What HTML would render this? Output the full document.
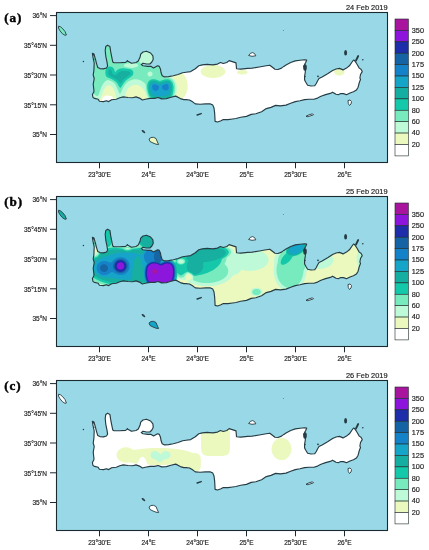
<!DOCTYPE html>
<html><head><meta charset="utf-8"><style>
html,body{margin:0;padding:0;background:#fff;}
body{width:429px;height:550px;overflow:hidden;}
svg{display:block;}
text{font-family:"Liberation Sans",sans-serif;fill:#222;stroke:#222;stroke-width:0.18px;}
.tx{opacity:0.995;}
.ax{font-size:6.5px;}
.dt{font-size:7.4px;}
.cb{font-size:7.3px;}
.pl{font-family:"Liberation Serif",serif;font-weight:bold;font-size:13.1px;fill:#000;stroke:#000;stroke-width:0.45px;letter-spacing:0.9px;}
</style></head><body>
<svg width="429" height="550" viewBox="0 0 429 550">
<defs><filter id="bl" x="-5%" y="-5%" width="110%" height="110%"><feGaussianBlur stdDeviation="0.45"/></filter><clipPath id="land"><path d="M92.4,53.4 L93.9,54.0 L95.3,58.6 L96.5,63.3 L97.7,67.4 L100.0,68.6 L103.5,68.9 L106.4,68.0 L107.6,66.2 L107.0,62.1 L105.8,56.3 L105.2,50.5 L105.8,46.4 L107.6,45.2 L109.9,46.4 L110.7,51.7 L111.6,56.3 L112.8,62.1 L114.0,62.7 L119.8,62.7 L125.6,62.4 L127.4,61.0 L131.5,63.3 L136.0,62.5 L138.3,61.1 L140.1,57.1 L140.7,54.1 L143.0,52.0 L146.5,51.2 L150.6,53.0 L152.9,55.9 L153.2,59.4 L151.7,62.3 L149.8,64.0 L146.5,64.0 L143.0,63.2 L141.2,64.6 L143.0,65.8 L147.7,66.4 L151.2,66.4 L153.5,67.9 L157.6,65.8 L159.3,66.4 L160.5,69.3 L161.1,72.8 L162.2,75.7 L164.6,76.9 L168.6,76.6 L173.3,75.7 L178.0,74.5 L182.6,72.8 L186.0,72.2 L190.7,71.6 L195.3,68.7 L198.8,65.8 L202.3,64.9 L207.0,64.4 L212.8,64.9 L217.5,64.1 L220.4,62.5 L223.3,63.5 L226.8,62.5 L229.1,60.6 L231.5,61.4 L233.8,62.1 L236.0,62.9 L236.5,68.7 L240.7,69.1 L247.7,68.4 L252.3,68.1 L259.3,67.0 L266.3,65.8 L269.8,65.2 L272.1,67.0 L275.0,69.3 L278.0,69.5 L281.5,68.1 L283.8,66.4 L286.0,65.0 L290.7,62.5 L295.3,60.9 L300.0,60.2 L304.6,59.7 L306.7,60.0 L305.8,62.3 L304.6,64.6 L303.8,66.5 L305.5,69.5 L305.2,72.8 L304.6,76.3 L304.6,80.0 L305.8,82.3 L307.6,85.2 L311.0,86.0 L314.6,85.8 L316.3,83.5 L317.5,81.0 L319.0,78.5 L322.1,76.9 L328.0,73.4 L332.6,70.5 L336.0,69.0 L339.5,68.4 L343.0,69.9 L346.5,68.1 L349.4,65.8 L351.7,62.5 L353.5,60.0 L354.6,60.6 L355.8,62.3 L357.6,65.2 L359.3,68.1 L361.0,69.3 L362.2,71.6 L360.5,74.5 L359.9,78.0 L360.5,79.5 L359.3,82.5 L358.1,87.2 L356.4,90.1 L353.5,91.8 L350.0,93.0 L346.5,94.7 L343.6,93.6 L340.7,93.6 L338.3,94.7 L336.0,94.3 L332.6,92.2 L330.3,93.4 L325.6,94.6 L321.0,96.3 L317.5,98.1 L314.0,99.2 L309.3,99.2 L304.6,99.6 L300.0,100.7 L295.3,101.6 L290.7,103.3 L286.0,105.1 L280.3,105.9 L275.6,105.4 L271.0,107.4 L266.3,108.6 L261.6,111.7 L255.8,113.8 L251.2,114.4 L246.5,116.4 L240.7,117.3 L236.0,118.5 L232.6,119.0 L228.0,119.6 L223.3,119.6 L221.0,120.8 L217.5,122.0 L215.1,121.4 L214.9,117.3 L214.6,112.6 L214.0,108.0 L212.8,105.1 L210.5,103.9 L205.8,103.9 L200.0,104.2 L195.3,103.9 L193.0,102.1 L189.5,100.0 L186.0,99.6 L183.8,99.6 L180.3,98.6 L177.4,96.9 L175.6,96.1 L171.0,97.2 L166.3,98.6 L161.6,98.9 L158.1,97.5 L154.6,98.4 L150.0,98.4 L145.3,99.2 L142.4,100.0 L139.5,98.1 L136.0,96.9 L132.6,97.7 L128.0,97.5 L123.3,96.9 L119.8,97.7 L116.3,99.2 L111.6,99.8 L108.7,101.6 L106.4,100.7 L103.5,101.6 L99.4,101.3 L98.2,99.2 L94.7,98.4 L93.0,97.5 L92.4,94.6 L93.9,91.7 L93.9,90.0 L93.2,84.3 L94.2,78.5 L93.2,75.0 L93.9,70.3 L94.2,63.0 L93.0,57.5Z"/></clipPath></defs>
<g transform="translate(0,0)">
<rect x="56.5" y="12.5" width="331.0" height="150.0" fill="#99d9e7"/>
<path d="M92.4,53.4 L93.9,54.0 L95.3,58.6 L96.5,63.3 L97.7,67.4 L100.0,68.6 L103.5,68.9 L106.4,68.0 L107.6,66.2 L107.0,62.1 L105.8,56.3 L105.2,50.5 L105.8,46.4 L107.6,45.2 L109.9,46.4 L110.7,51.7 L111.6,56.3 L112.8,62.1 L114.0,62.7 L119.8,62.7 L125.6,62.4 L127.4,61.0 L131.5,63.3 L136.0,62.5 L138.3,61.1 L140.1,57.1 L140.7,54.1 L143.0,52.0 L146.5,51.2 L150.6,53.0 L152.9,55.9 L153.2,59.4 L151.7,62.3 L149.8,64.0 L146.5,64.0 L143.0,63.2 L141.2,64.6 L143.0,65.8 L147.7,66.4 L151.2,66.4 L153.5,67.9 L157.6,65.8 L159.3,66.4 L160.5,69.3 L161.1,72.8 L162.2,75.7 L164.6,76.9 L168.6,76.6 L173.3,75.7 L178.0,74.5 L182.6,72.8 L186.0,72.2 L190.7,71.6 L195.3,68.7 L198.8,65.8 L202.3,64.9 L207.0,64.4 L212.8,64.9 L217.5,64.1 L220.4,62.5 L223.3,63.5 L226.8,62.5 L229.1,60.6 L231.5,61.4 L233.8,62.1 L236.0,62.9 L236.5,68.7 L240.7,69.1 L247.7,68.4 L252.3,68.1 L259.3,67.0 L266.3,65.8 L269.8,65.2 L272.1,67.0 L275.0,69.3 L278.0,69.5 L281.5,68.1 L283.8,66.4 L286.0,65.0 L290.7,62.5 L295.3,60.9 L300.0,60.2 L304.6,59.7 L306.7,60.0 L305.8,62.3 L304.6,64.6 L303.8,66.5 L305.5,69.5 L305.2,72.8 L304.6,76.3 L304.6,80.0 L305.8,82.3 L307.6,85.2 L311.0,86.0 L314.6,85.8 L316.3,83.5 L317.5,81.0 L319.0,78.5 L322.1,76.9 L328.0,73.4 L332.6,70.5 L336.0,69.0 L339.5,68.4 L343.0,69.9 L346.5,68.1 L349.4,65.8 L351.7,62.5 L353.5,60.0 L354.6,60.6 L355.8,62.3 L357.6,65.2 L359.3,68.1 L361.0,69.3 L362.2,71.6 L360.5,74.5 L359.9,78.0 L360.5,79.5 L359.3,82.5 L358.1,87.2 L356.4,90.1 L353.5,91.8 L350.0,93.0 L346.5,94.7 L343.6,93.6 L340.7,93.6 L338.3,94.7 L336.0,94.3 L332.6,92.2 L330.3,93.4 L325.6,94.6 L321.0,96.3 L317.5,98.1 L314.0,99.2 L309.3,99.2 L304.6,99.6 L300.0,100.7 L295.3,101.6 L290.7,103.3 L286.0,105.1 L280.3,105.9 L275.6,105.4 L271.0,107.4 L266.3,108.6 L261.6,111.7 L255.8,113.8 L251.2,114.4 L246.5,116.4 L240.7,117.3 L236.0,118.5 L232.6,119.0 L228.0,119.6 L223.3,119.6 L221.0,120.8 L217.5,122.0 L215.1,121.4 L214.9,117.3 L214.6,112.6 L214.0,108.0 L212.8,105.1 L210.5,103.9 L205.8,103.9 L200.0,104.2 L195.3,103.9 L193.0,102.1 L189.5,100.0 L186.0,99.6 L183.8,99.6 L180.3,98.6 L177.4,96.9 L175.6,96.1 L171.0,97.2 L166.3,98.6 L161.6,98.9 L158.1,97.5 L154.6,98.4 L150.0,98.4 L145.3,99.2 L142.4,100.0 L139.5,98.1 L136.0,96.9 L132.6,97.7 L128.0,97.5 L123.3,96.9 L119.8,97.7 L116.3,99.2 L111.6,99.8 L108.7,101.6 L106.4,100.7 L103.5,101.6 L99.4,101.3 L98.2,99.2 L94.7,98.4 L93.0,97.5 L92.4,94.6 L93.9,91.7 L93.9,90.0 L93.2,84.3 L94.2,78.5 L93.2,75.0 L93.9,70.3 L94.2,63.0 L93.0,57.5Z" fill="#fff"/>
<g clip-path="url(#land)"><g filter="url(#bl)"><path d="M119.0,31.5 124.5,31.2 130.5,31.4 136.0,32.3 142.0,33.9 147.0,35.9 152.0,38.6 156.5,41.7 160.7,45.5 163.4,48.5 165.9,52.0 168.0,55.5 169.5,59.0 170.7,62.5 171.5,66.5 171.9,70.0 172.0,74.9 173.5,73.5 175.5,72.4 177.5,71.9 179.5,72.1 181.5,72.8 183.5,74.4 185.0,76.2 186.2,78.5 187.0,80.7 187.5,83.5 187.7,86.0 187.5,88.8 186.9,91.5 186.0,94.0 185.0,95.8 183.5,97.6 181.8,99.0 180.0,99.8 178.0,100.1 176.0,99.8 173.5,102.0 171.0,103.2 168.5,104.0 164.5,104.7 162.0,104.9 158.0,104.9 153.5,104.3 151.0,104.9 149.5,104.9 147.5,104.6 142.5,102.9 140.5,102.8 138.5,103.2 134.5,104.2 132.0,105.2 130.0,106.5 126.8,109.5 124.8,111.0 122.5,112.0 120.5,112.3 118.5,111.9 117.0,110.9 115.5,109.0 113.0,104.8 111.4,103.0 111.6,102.5 113.3,100.5 113.6,99.0 113.0,97.5 111.5,96.3 109.5,95.7 107.5,95.5 105.5,95.7 103.8,96.5 102.7,97.5 102.0,99.0 102.0,100.0 102.5,102.0 102.4,102.5 100.5,104.2 99.0,104.8 97.5,104.7 95.5,103.7 92.5,101.5 89.3,98.5 85.4,94.0 82.6,89.5 80.3,84.5 78.7,79.0 78.1,73.5 78.3,68.0 79.3,62.5 81.3,57.0 84.1,52.0 87.4,47.5 91.5,43.4 96.0,39.9 101.5,36.6 107.0,34.3 112.5,32.6ZM211.9,65.0 215.0,65.1 217.8,65.5 220.9,66.5 222.7,67.5 224.4,69.0 225.2,70.5 225.3,72.0 225.0,73.0 224.5,73.9 223.0,75.3 220.9,76.5 217.8,77.5 214.5,78.0 211.5,78.0 208.2,77.5 205.1,76.5 203.3,75.5 201.6,74.0 200.8,72.5 200.7,71.5 200.8,70.5 201.6,69.0 203.3,67.5 205.5,66.3 208.5,65.4ZM336.7,68.5 338.5,68.1 340.0,68.0 341.5,68.4 342.9,69.0 344.0,70.0 344.5,71.0 344.5,72.5 344.0,73.5 343.0,74.5 342.1,75.0 340.0,75.6 338.0,75.5 336.5,75.0 335.6,74.5 335.0,74.0 334.3,73.0 334.0,71.5 334.3,70.5 335.0,69.6ZM239.0,70.5 242.0,70.0 245.0,70.3 247.0,71.3 247.5,72.0 247.6,72.5 246.8,73.5 245.0,74.2 242.5,74.6 240.0,74.3 238.8,74.0 237.8,73.5 237.0,72.5 237.1,72.0 237.4,71.5 237.9,71.0Z" fill="#ebf8be" fill-rule="evenodd"/><path d="M119.8,34.0 125.5,33.7 131.5,34.2 137.5,35.3 142.8,37.0 148.2,39.5 153.0,42.5 157.3,46.0 161.0,50.0 163.2,53.0 165.0,56.0 166.4,59.0 167.5,62.1 168.4,65.5 168.8,68.5 169.0,72.0 168.8,75.5 169.0,76.0 171.5,77.0 173.0,78.0 174.0,79.0 175.4,81.0 176.5,84.0 177.0,88.0 176.6,92.0 175.5,97.0 174.7,98.5 173.5,99.9 172.0,101.0 170.0,101.8 166.5,102.7 164.0,103.1 160.0,103.3 158.0,103.3 155.5,103.0 153.0,102.3 149.5,100.6 148.4,99.5 146.6,96.5 146.0,94.3 144.6,91.0 143.3,89.0 141.9,87.5 140.0,86.0 138.0,85.1 136.0,84.8 134.0,84.9 132.0,85.5 130.0,86.7 128.5,88.1 127.0,90.1 125.9,92.5 125.0,95.7 124.7,98.5 124.5,104.0 124.1,106.0 123.4,107.5 122.5,108.4 121.5,109.0 120.0,109.3 119.0,109.0 118.0,108.1 117.0,106.0 116.5,103.5 116.2,98.5 115.9,96.0 115.4,93.5 114.5,90.7 113.5,88.6 112.5,87.2 111.5,86.2 110.5,85.6 109.0,85.2 107.5,85.6 106.1,86.5 105.0,87.8 103.5,90.5 101.8,95.5 100.5,98.0 99.8,100.0 99.5,100.6 98.5,101.3 97.0,101.2 95.0,100.0 92.0,97.3 89.0,94.0 86.0,89.7 83.6,85.0 82.0,80.1 81.2,75.5 81.0,71.0 81.5,66.0 82.9,61.0 84.8,56.5 87.5,52.0 90.7,48.0 94.5,44.4 99.0,41.1 103.7,38.5 108.6,36.5 114.0,34.9Z" fill="#befad7" fill-rule="evenodd"/><path d="M120.6,37.5 125.0,37.3 129.4,37.5 133.0,38.0 137.5,39.0 141.8,40.5 146.0,42.5 150.1,45.0 152.4,47.0 153.1,48.0 152.5,48.4 149.5,48.1 147.5,48.2 145.5,48.5 143.5,49.2 141.0,50.6 140.0,51.6 138.9,53.0 138.2,54.5 137.9,56.0 137.8,57.5 138.1,59.0 138.7,60.5 139.5,61.8 140.9,63.5 142.0,64.2 144.5,65.0 147.0,65.3 149.5,65.0 152.0,64.0 153.5,63.0 154.5,62.0 156.0,60.0 157.1,57.0 157.5,53.4 158.0,53.3 159.0,54.1 160.5,56.2 162.0,59.0 163.0,61.5 164.1,65.0 164.6,68.0 164.9,71.5 164.8,74.5 164.4,77.5 165.0,77.7 168.0,77.5 169.5,77.9 170.8,78.5 172.0,79.3 173.1,80.5 174.0,82.0 174.6,83.5 175.3,87.0 175.1,91.0 173.9,96.5 173.4,97.5 172.5,98.6 171.0,99.6 168.0,100.7 162.0,101.6 158.5,101.6 156.0,101.4 154.0,100.9 152.0,100.1 149.5,98.3 148.5,97.2 147.9,96.0 146.4,91.0 145.5,84.1 143.5,82.2 141.5,80.8 139.0,79.7 136.5,79.2 134.0,79.3 131.5,79.9 129.0,81.1 127.0,82.6 125.5,84.1 123.5,87.0 121.0,92.3 120.5,93.2 120.0,93.6 119.5,93.4 119.0,92.7 116.4,86.5 114.7,83.5 113.5,82.4 111.5,81.2 109.5,80.4 107.5,80.0 106.5,80.4 105.0,81.4 102.9,84.0 101.2,87.5 99.0,93.9 98.0,95.7 97.5,96.0 97.0,96.0 96.0,95.7 94.6,94.5 93.0,92.7 90.5,89.5 88.0,85.0 86.5,81.0 85.4,76.0 85.1,71.5 85.5,67.0 86.6,62.5 88.5,58.0 91.0,53.8 94.0,50.1 97.3,47.0 101.4,44.0 105.9,41.5 111.0,39.5 115.5,38.3ZM127.5,63.4 125.4,64.0 124.5,64.5 124.0,65.0 123.8,65.5 124.0,66.0 124.5,66.5 125.6,67.0 131.5,67.9 133.5,67.7 136.6,67.0 137.5,66.5 138.3,65.5 138.2,65.0 137.7,64.5 136.7,64.0 135.0,63.5 131.0,63.1ZM150.0,71.5 149.0,71.7 148.4,72.0 147.7,73.0 147.5,74.0 147.7,75.0 148.4,76.0 149.0,76.3 150.0,76.5 151.0,76.3 152.0,75.6 152.3,75.0 152.6,74.0 152.3,73.0 152.0,72.4 151.0,71.7Z" fill="#78ebbe" fill-rule="evenodd"/><path d="M108.0,67.0 109.0,66.7 110.5,66.6 111.5,66.8 112.5,67.3 113.5,68.2 114.3,69.5 115.0,72.2 117.5,69.7 119.0,68.9 120.5,68.4 123.5,68.3 130.5,69.2 132.0,70.0 132.9,71.0 133.4,72.5 133.2,74.0 132.8,75.0 132.0,76.0 126.5,80.0 125.4,81.0 123.4,83.5 120.5,88.0 119.8,87.5 116.9,83.0 115.5,81.5 112.0,79.3 107.6,77.5 106.9,77.0 106.0,76.0 105.6,75.0 105.4,73.5 105.3,72.0 105.6,70.0 105.9,69.0 106.5,68.1ZM151.0,79.5 152.5,79.2 154.5,79.3 156.5,79.7 159.0,80.7 160.0,80.9 161.5,80.6 164.5,79.6 167.5,79.2 169.1,79.5 171.0,80.7 172.1,82.0 172.8,83.5 173.5,86.0 173.6,88.0 173.4,91.0 172.6,95.0 172.0,96.5 171.5,97.2 170.5,98.0 167.5,99.1 164.0,99.7 160.0,100.0 156.5,99.7 154.0,99.2 152.0,98.3 150.1,97.0 149.0,95.5 147.8,91.5 147.2,88.0 147.2,85.5 147.5,83.5 148.1,82.0 149.4,80.5Z" fill="#14c8aa" fill-rule="evenodd"/><path d="M109.8,69.5 110.5,69.5 111.2,70.0 111.6,70.5 112.0,72.5 112.5,73.8 113.5,74.8 114.5,75.1 115.5,75.0 116.5,74.6 118.6,72.5 119.5,71.8 121.0,71.2 122.5,71.0 126.0,71.0 129.0,71.4 130.0,72.0 130.4,72.5 130.6,73.0 130.5,73.5 130.0,74.5 129.4,75.0 124.0,79.1 122.8,80.5 120.5,83.7 118.3,81.0 116.5,79.5 113.0,77.4 110.0,76.1 109.0,75.5 108.4,74.0 108.3,71.5 108.6,70.0 109.0,69.7ZM151.8,81.0 153.0,80.8 155.5,81.1 159.0,82.4 160.0,82.5 161.5,82.3 164.5,81.2 166.5,80.8 168.0,80.9 169.5,81.6 170.5,82.5 171.3,84.0 171.7,85.5 172.0,87.5 171.6,91.5 170.8,95.0 170.3,96.0 169.5,96.6 167.0,97.5 163.5,98.1 160.0,98.3 156.5,98.1 154.5,97.7 153.0,97.1 151.0,96.0 150.0,94.8 149.0,91.5 148.6,89.0 148.5,86.5 148.8,84.5 149.4,83.0 150.5,81.7Z" fill="#14afa0" fill-rule="evenodd"/><path d="M166.2,82.5 167.5,82.5 169.0,83.4 169.7,84.5 170.2,86.0 170.3,87.5 170.1,89.5 168.9,94.0 168.5,94.8 166.5,95.4 163.5,96.0 161.5,96.2 158.5,96.2 154.5,95.5 152.5,94.8 151.4,94.0 150.4,90.5 150.0,87.5 150.4,85.0 151.0,84.0 151.5,83.4 152.5,82.8 155.0,82.7 156.0,83.0 159.0,84.2 160.5,84.4 161.5,84.2 164.5,82.8Z" fill="#14a5c8" fill-rule="evenodd"/><path d="M153.2,84.5 155.0,84.3 158.0,85.5 158.8,86.0 159.1,87.0 159.0,88.0 158.6,89.0 157.9,90.0 157.0,90.6 155.5,90.9 154.1,90.5 153.0,89.5 152.5,88.5 152.2,87.0 152.4,85.5ZM164.6,84.5 167.0,84.0 168.0,84.6 168.7,86.5 168.7,88.0 168.5,89.2 167.5,90.0 166.0,90.5 164.5,90.3 163.2,89.5 162.4,88.5 162.0,87.0 162.1,86.0 162.4,85.5Z" fill="#1482c8" fill-rule="evenodd"/></g></g>
<path d="M92.4,53.4 L93.9,54.0 L95.3,58.6 L96.5,63.3 L97.7,67.4 L100.0,68.6 L103.5,68.9 L106.4,68.0 L107.6,66.2 L107.0,62.1 L105.8,56.3 L105.2,50.5 L105.8,46.4 L107.6,45.2 L109.9,46.4 L110.7,51.7 L111.6,56.3 L112.8,62.1 L114.0,62.7 L119.8,62.7 L125.6,62.4 L127.4,61.0 L131.5,63.3 L136.0,62.5 L138.3,61.1 L140.1,57.1 L140.7,54.1 L143.0,52.0 L146.5,51.2 L150.6,53.0 L152.9,55.9 L153.2,59.4 L151.7,62.3 L149.8,64.0 L146.5,64.0 L143.0,63.2 L141.2,64.6 L143.0,65.8 L147.7,66.4 L151.2,66.4 L153.5,67.9 L157.6,65.8 L159.3,66.4 L160.5,69.3 L161.1,72.8 L162.2,75.7 L164.6,76.9 L168.6,76.6 L173.3,75.7 L178.0,74.5 L182.6,72.8 L186.0,72.2 L190.7,71.6 L195.3,68.7 L198.8,65.8 L202.3,64.9 L207.0,64.4 L212.8,64.9 L217.5,64.1 L220.4,62.5 L223.3,63.5 L226.8,62.5 L229.1,60.6 L231.5,61.4 L233.8,62.1 L236.0,62.9 L236.5,68.7 L240.7,69.1 L247.7,68.4 L252.3,68.1 L259.3,67.0 L266.3,65.8 L269.8,65.2 L272.1,67.0 L275.0,69.3 L278.0,69.5 L281.5,68.1 L283.8,66.4 L286.0,65.0 L290.7,62.5 L295.3,60.9 L300.0,60.2 L304.6,59.7 L306.7,60.0 L305.8,62.3 L304.6,64.6 L303.8,66.5 L305.5,69.5 L305.2,72.8 L304.6,76.3 L304.6,80.0 L305.8,82.3 L307.6,85.2 L311.0,86.0 L314.6,85.8 L316.3,83.5 L317.5,81.0 L319.0,78.5 L322.1,76.9 L328.0,73.4 L332.6,70.5 L336.0,69.0 L339.5,68.4 L343.0,69.9 L346.5,68.1 L349.4,65.8 L351.7,62.5 L353.5,60.0 L354.6,60.6 L355.8,62.3 L357.6,65.2 L359.3,68.1 L361.0,69.3 L362.2,71.6 L360.5,74.5 L359.9,78.0 L360.5,79.5 L359.3,82.5 L358.1,87.2 L356.4,90.1 L353.5,91.8 L350.0,93.0 L346.5,94.7 L343.6,93.6 L340.7,93.6 L338.3,94.7 L336.0,94.3 L332.6,92.2 L330.3,93.4 L325.6,94.6 L321.0,96.3 L317.5,98.1 L314.0,99.2 L309.3,99.2 L304.6,99.6 L300.0,100.7 L295.3,101.6 L290.7,103.3 L286.0,105.1 L280.3,105.9 L275.6,105.4 L271.0,107.4 L266.3,108.6 L261.6,111.7 L255.8,113.8 L251.2,114.4 L246.5,116.4 L240.7,117.3 L236.0,118.5 L232.6,119.0 L228.0,119.6 L223.3,119.6 L221.0,120.8 L217.5,122.0 L215.1,121.4 L214.9,117.3 L214.6,112.6 L214.0,108.0 L212.8,105.1 L210.5,103.9 L205.8,103.9 L200.0,104.2 L195.3,103.9 L193.0,102.1 L189.5,100.0 L186.0,99.6 L183.8,99.6 L180.3,98.6 L177.4,96.9 L175.6,96.1 L171.0,97.2 L166.3,98.6 L161.6,98.9 L158.1,97.5 L154.6,98.4 L150.0,98.4 L145.3,99.2 L142.4,100.0 L139.5,98.1 L136.0,96.9 L132.6,97.7 L128.0,97.5 L123.3,96.9 L119.8,97.7 L116.3,99.2 L111.6,99.8 L108.7,101.6 L106.4,100.7 L103.5,101.6 L99.4,101.3 L98.2,99.2 L94.7,98.4 L93.0,97.5 L92.4,94.6 L93.9,91.7 L93.9,90.0 L93.2,84.3 L94.2,78.5 L93.2,75.0 L93.9,70.3 L94.2,63.0 L93.0,57.5Z" fill="none" stroke="#263c44" stroke-width="1.15" stroke-linejoin="round"/>
<path d="M58.6,26.2 L60.5,26.8 L62.8,28.8 L65.0,31.5 L66.4,35.0 L65.0,35.3 L62.3,33.6 L59.8,30.5 L58.5,28.0Z" fill="#78ebbe" stroke="#263c44" stroke-width="0.9"/>
<path d="M149.0,139.0 L151.0,137.5 L153.5,137.3 L156.0,138.5 L157.0,141.0 L158.6,144.5 L156.0,144.2 L153.0,143.0 L150.0,141.5Z" fill="#ebf8be" stroke="#263c44" stroke-width="0.9"/>
<path d="M248.6,55.5 L250.5,53.3 L252.5,52.6 L254.5,53.5 L255.8,55.8 L252.0,56.3Z" fill="#fff" stroke="#263c44" stroke-width="0.9"/>
<path d="M306.0,116.2 L309.0,114.8 L312.5,113.8 L313.5,114.8 L310.0,116.0 L307.0,116.8Z" fill="#fff" stroke="#263c44" stroke-width="0.9"/>
<path d="M348.0,100.5 L350.0,100.0 L351.5,101.5 L351.0,104.0 L349.5,105.5 L348.3,103.5Z" fill="#fff" stroke="#263c44" stroke-width="0.9"/>
<circle cx="83.4" cy="61.5" r="0.7" fill="#263c44"/>
<circle cx="143.4" cy="131.5" r="1.0" fill="#263c44"/>
<circle cx="362.8" cy="59.7" r="0.8" fill="#263c44"/>
<circle cx="318" cy="76.3" r="0.9" fill="#263c44"/>
<circle cx="283.6" cy="30.5" r="0.4" fill="#263c44"/>
<circle cx="127.4" cy="60.5" r="0.6" fill="#263c44"/>
<circle cx="93.3" cy="54.5" r="0.9" fill="#263c44"/>
<circle cx="93.8" cy="59.3" r="0.8" fill="#263c44"/>
<circle cx="305" cy="76.5" r="0.7" fill="#263c44"/>
<ellipse cx="305" cy="67.5" rx="1.8" ry="3.2" fill="#263c44"/>
<ellipse cx="345.6" cy="52.8" rx="1.5" ry="2.8" fill="#263c44"/>
<line x1="197.2" y1="115" x2="201.2" y2="113.6" stroke="#263c44" stroke-width="1.5" stroke-linecap="round"/>
<line x1="142.2" y1="130.6" x2="144.6" y2="132.6" stroke="#263c44" stroke-width="1.3" stroke-linecap="round"/>
<line x1="356" y1="60.5" x2="358.2" y2="56" stroke="#263c44" stroke-width="1.8" stroke-linecap="round"/>
<rect x="56.5" y="12.5" width="331.0" height="150.0" fill="none" stroke="#1b2a30" stroke-width="1.1"/>
<line x1="50" y1="15.6" x2="56.5" y2="15.6" stroke="#1b2a30" stroke-width="1"/>
<line x1="50" y1="45.3" x2="56.5" y2="45.3" stroke="#1b2a30" stroke-width="1"/>
<line x1="50" y1="75.0" x2="56.5" y2="75.0" stroke="#1b2a30" stroke-width="1"/>
<line x1="50" y1="104.8" x2="56.5" y2="104.8" stroke="#1b2a30" stroke-width="1"/>
<line x1="50" y1="134.5" x2="56.5" y2="134.5" stroke="#1b2a30" stroke-width="1"/>
<line x1="99.5" y1="162.5" x2="99.5" y2="168.3" stroke="#1b2a30" stroke-width="1"/>
<line x1="148.5" y1="162.5" x2="148.5" y2="168.3" stroke="#1b2a30" stroke-width="1"/>
<line x1="197.5" y1="162.5" x2="197.5" y2="168.3" stroke="#1b2a30" stroke-width="1"/>
<line x1="246.5" y1="162.5" x2="246.5" y2="168.3" stroke="#1b2a30" stroke-width="1"/>
<line x1="295.5" y1="162.5" x2="295.5" y2="168.3" stroke="#1b2a30" stroke-width="1"/>
<line x1="344.5" y1="162.5" x2="344.5" y2="168.3" stroke="#1b2a30" stroke-width="1"/>
<rect x="395.0" y="19.00" width="13.399999999999977" height="11.41" fill="#a8149e" stroke="#1e2a2a" stroke-width="0.6"/>
<rect x="395.0" y="30.41" width="13.399999999999977" height="11.41" fill="#8c14dc" stroke="#1e2a2a" stroke-width="0.6"/>
<rect x="395.0" y="41.82" width="13.399999999999977" height="11.41" fill="#1e2eaa" stroke="#1e2a2a" stroke-width="0.6"/>
<rect x="395.0" y="53.23" width="13.399999999999977" height="11.41" fill="#1464a5" stroke="#1e2a2a" stroke-width="0.6"/>
<rect x="395.0" y="64.63" width="13.399999999999977" height="11.41" fill="#1482c8" stroke="#1e2a2a" stroke-width="0.6"/>
<rect x="395.0" y="76.04" width="13.399999999999977" height="11.41" fill="#14a5c8" stroke="#1e2a2a" stroke-width="0.6"/>
<rect x="395.0" y="87.45" width="13.399999999999977" height="11.41" fill="#14afa0" stroke="#1e2a2a" stroke-width="0.6"/>
<rect x="395.0" y="98.86" width="13.399999999999977" height="11.41" fill="#14c8aa" stroke="#1e2a2a" stroke-width="0.6"/>
<rect x="395.0" y="110.27" width="13.399999999999977" height="11.41" fill="#78ebbe" stroke="#1e2a2a" stroke-width="0.6"/>
<rect x="395.0" y="121.67" width="13.399999999999977" height="11.41" fill="#befad7" stroke="#1e2a2a" stroke-width="0.6"/>
<rect x="395.0" y="133.08" width="13.399999999999977" height="11.41" fill="#ebf8be" stroke="#1e2a2a" stroke-width="0.6"/>
<rect x="395.0" y="144.49" width="13.399999999999977" height="11.41" fill="#ffffff" stroke="#1e2a2a" stroke-width="0.6"/>
<g opacity="0.99"><text x="47" y="18.4" text-anchor="end" class="ax">36°N</text><text x="47" y="48.1" text-anchor="end" class="ax">35°45'N</text><text x="47" y="77.8" text-anchor="end" class="ax">35°30'N</text><text x="47" y="107.6" text-anchor="end" class="ax">35°15'N</text><text x="47" y="137.3" text-anchor="end" class="ax">35°N</text><text x="99.5" y="177.3" text-anchor="middle" class="ax">23°30'E</text><text x="148.5" y="177.3" text-anchor="middle" class="ax">24°E</text><text x="197.5" y="177.3" text-anchor="middle" class="ax">24°30'E</text><text x="246.5" y="177.3" text-anchor="middle" class="ax">25°E</text><text x="295.5" y="177.3" text-anchor="middle" class="ax">25°30'E</text><text x="344.5" y="177.3" text-anchor="middle" class="ax">26°E</text><text x="387.5" y="10.2" text-anchor="end" class="dt">24 Feb 2019</text><text x="4.3" y="21.5" class="pl">(a)</text><text x="411.8" y="32.7" class="cb">350</text><text x="411.8" y="44.1" class="cb">250</text><text x="411.8" y="55.5" class="cb">200</text><text x="411.8" y="66.9" class="cb">175</text><text x="411.8" y="78.3" class="cb">150</text><text x="411.8" y="89.8" class="cb">125</text><text x="411.8" y="101.2" class="cb">100</text><text x="411.8" y="112.6" class="cb">80</text><text x="411.8" y="124.0" class="cb">60</text><text x="411.8" y="135.4" class="cb">40</text><text x="411.8" y="146.8" class="cb">20</text></g>
</g>
<g transform="translate(0,184)">
<rect x="56.5" y="12.5" width="331.0" height="150.0" fill="#99d9e7"/>
<path d="M92.4,53.4 L93.9,54.0 L95.3,58.6 L96.5,63.3 L97.7,67.4 L100.0,68.6 L103.5,68.9 L106.4,68.0 L107.6,66.2 L107.0,62.1 L105.8,56.3 L105.2,50.5 L105.8,46.4 L107.6,45.2 L109.9,46.4 L110.7,51.7 L111.6,56.3 L112.8,62.1 L114.0,62.7 L119.8,62.7 L125.6,62.4 L127.4,61.0 L131.5,63.3 L136.0,62.5 L138.3,61.1 L140.1,57.1 L140.7,54.1 L143.0,52.0 L146.5,51.2 L150.6,53.0 L152.9,55.9 L153.2,59.4 L151.7,62.3 L149.8,64.0 L146.5,64.0 L143.0,63.2 L141.2,64.6 L143.0,65.8 L147.7,66.4 L151.2,66.4 L153.5,67.9 L157.6,65.8 L159.3,66.4 L160.5,69.3 L161.1,72.8 L162.2,75.7 L164.6,76.9 L168.6,76.6 L173.3,75.7 L178.0,74.5 L182.6,72.8 L186.0,72.2 L190.7,71.6 L195.3,68.7 L198.8,65.8 L202.3,64.9 L207.0,64.4 L212.8,64.9 L217.5,64.1 L220.4,62.5 L223.3,63.5 L226.8,62.5 L229.1,60.6 L231.5,61.4 L233.8,62.1 L236.0,62.9 L236.5,68.7 L240.7,69.1 L247.7,68.4 L252.3,68.1 L259.3,67.0 L266.3,65.8 L269.8,65.2 L272.1,67.0 L275.0,69.3 L278.0,69.5 L281.5,68.1 L283.8,66.4 L286.0,65.0 L290.7,62.5 L295.3,60.9 L300.0,60.2 L304.6,59.7 L306.7,60.0 L305.8,62.3 L304.6,64.6 L303.8,66.5 L305.5,69.5 L305.2,72.8 L304.6,76.3 L304.6,80.0 L305.8,82.3 L307.6,85.2 L311.0,86.0 L314.6,85.8 L316.3,83.5 L317.5,81.0 L319.0,78.5 L322.1,76.9 L328.0,73.4 L332.6,70.5 L336.0,69.0 L339.5,68.4 L343.0,69.9 L346.5,68.1 L349.4,65.8 L351.7,62.5 L353.5,60.0 L354.6,60.6 L355.8,62.3 L357.6,65.2 L359.3,68.1 L361.0,69.3 L362.2,71.6 L360.5,74.5 L359.9,78.0 L360.5,79.5 L359.3,82.5 L358.1,87.2 L356.4,90.1 L353.5,91.8 L350.0,93.0 L346.5,94.7 L343.6,93.6 L340.7,93.6 L338.3,94.7 L336.0,94.3 L332.6,92.2 L330.3,93.4 L325.6,94.6 L321.0,96.3 L317.5,98.1 L314.0,99.2 L309.3,99.2 L304.6,99.6 L300.0,100.7 L295.3,101.6 L290.7,103.3 L286.0,105.1 L280.3,105.9 L275.6,105.4 L271.0,107.4 L266.3,108.6 L261.6,111.7 L255.8,113.8 L251.2,114.4 L246.5,116.4 L240.7,117.3 L236.0,118.5 L232.6,119.0 L228.0,119.6 L223.3,119.6 L221.0,120.8 L217.5,122.0 L215.1,121.4 L214.9,117.3 L214.6,112.6 L214.0,108.0 L212.8,105.1 L210.5,103.9 L205.8,103.9 L200.0,104.2 L195.3,103.9 L193.0,102.1 L189.5,100.0 L186.0,99.6 L183.8,99.6 L180.3,98.6 L177.4,96.9 L175.6,96.1 L171.0,97.2 L166.3,98.6 L161.6,98.9 L158.1,97.5 L154.6,98.4 L150.0,98.4 L145.3,99.2 L142.4,100.0 L139.5,98.1 L136.0,96.9 L132.6,97.7 L128.0,97.5 L123.3,96.9 L119.8,97.7 L116.3,99.2 L111.6,99.8 L108.7,101.6 L106.4,100.7 L103.5,101.6 L99.4,101.3 L98.2,99.2 L94.7,98.4 L93.0,97.5 L92.4,94.6 L93.9,91.7 L93.9,90.0 L93.2,84.3 L94.2,78.5 L93.2,75.0 L93.9,70.3 L94.2,63.0 L93.0,57.5Z" fill="#fff"/>
<g clip-path="url(#land)"><g filter="url(#bl)"><path d="M208.3,33.5 228.5,33.4 248.5,34.1 268.8,35.5 287.4,37.5 305.0,40.1 322.3,43.5 337.5,47.3 350.9,51.5 357.6,54.0 363.5,56.5 368.6,59.0 373.2,61.5 377.2,64.0 381.3,67.0 384.1,69.5 386.9,72.5 388.0,73.9 388.0,96.1 385.1,99.5 381.3,103.0 376.4,106.5 371.4,109.5 365.6,112.5 358.8,115.5 350.9,118.5 343.3,121.0 334.6,123.5 326.0,125.7 316.0,127.8 306.0,129.7 295.0,131.5 284.5,132.9 274.0,134.0 262.0,135.1 250.0,135.8 238.5,136.3 226.5,136.6 214.5,136.6 203.0,136.4 191.0,135.9 179.0,135.1 167.5,134.2 156.7,133.0 145.3,131.5 135.5,130.0 124.8,128.0 115.5,126.0 105.4,123.5 96.7,121.0 89.1,118.5 78.8,114.5 69.5,110.0 62.1,105.5 58.7,103.0 56.0,100.6 56.0,69.4 61.4,65.0 66.8,61.5 73.4,58.0 81.2,54.5 89.5,51.4 89.7,49.5 90.0,49.2 90.2,48.0 90.9,46.5 92.0,44.7 93.5,43.5 95.0,43.3 96.5,44.2 98.2,46.5 98.5,47.6 99.0,48.0 99.0,48.3 103.0,47.0 103.1,45.5 105.0,41.1 106.5,39.2 108.0,38.4 109.5,38.6 111.0,39.7 112.8,42.5 113.5,44.5 124.8,42.0 135.5,40.0 146.0,38.4 158.0,36.8 171.0,35.5 183.0,34.6 195.5,33.9ZM94.5,65.5 94.3,66.0 94.5,66.1 94.6,66.0Z" fill="#ebf8be" fill-rule="evenodd"/><path d="M108.5,40.5 109.5,40.7 110.0,41.0 111.0,42.1 112.1,44.0 112.9,46.5 113.5,49.5 113.8,52.5 113.8,55.5 113.5,59.1 119.0,58.5 124.5,58.1 130.5,58.1 136.5,58.4 137.0,58.3 137.0,56.0 137.5,54.0 138.6,52.0 140.0,50.5 142.0,49.2 144.0,48.4 146.5,48.0 148.5,48.1 150.5,48.5 152.5,49.4 154.5,51.0 155.7,52.5 156.5,54.0 157.0,56.0 157.0,58.0 156.5,60.0 159.0,60.8 161.5,62.2 163.7,64.0 165.5,66.2 170.0,69.1 171.0,67.0 172.2,65.5 174.0,64.2 176.0,63.4 178.5,63.2 180.5,63.6 182.5,64.4 184.0,65.6 187.5,63.9 191.0,62.5 194.5,61.4 198.0,60.5 202.0,59.8 205.5,59.4 209.0,59.3 212.5,59.4 224.5,61.5 229.0,62.8 231.2,64.0 232.8,65.5 233.4,67.0 233.5,68.6 235.5,69.1 238.3,67.5 240.8,66.5 243.5,65.8 246.5,65.3 250.0,65.1 253.0,65.2 256.0,65.7 259.2,66.5 261.7,67.5 263.6,68.5 265.0,69.5 266.6,71.0 267.7,72.5 268.4,74.0 268.7,75.5 268.5,77.5 267.7,79.5 266.1,81.5 264.3,83.0 261.7,84.5 257.4,86.0 255.0,86.5 252.0,86.8 249.5,86.9 246.5,86.7 241.5,85.7 239.7,88.0 238.5,89.1 236.0,90.6 232.9,91.5 231.4,93.5 230.0,95.0 226.6,97.5 223.7,99.0 221.0,100.1 217.8,101.0 214.5,101.7 208.5,102.3 202.0,102.0 196.0,101.0 190.5,99.1 188.4,98.0 187.2,97.0 189.5,96.3 190.8,95.5 191.9,94.0 191.9,93.0 191.6,92.0 191.2,91.5 189.5,90.5 188.5,90.3 187.0,90.8 186.0,92.0 185.7,93.5 186.0,95.5 185.8,96.0 184.5,96.1 181.5,95.5 180.0,95.4 179.0,95.0 178.0,94.4 177.5,94.9 177.2,96.5 176.2,99.0 174.5,101.2 172.5,102.7 171.5,103.1 168.0,104.2 164.0,104.7 158.0,104.8 154.0,104.4 149.5,103.6 144.0,104.7 139.5,105.2 133.0,105.8 127.0,105.9 121.5,105.7 116.5,105.3 111.5,104.6 106.5,103.6 100.0,101.8 94.5,99.7 89.5,97.2 85.4,94.5 82.2,91.5 81.0,90.0 79.7,88.0 78.5,85.0 78.2,83.5 78.1,81.5 78.3,80.0 78.8,78.0 80.3,75.0 83.0,71.6 86.5,68.7 89.0,67.1 90.5,66.4 91.0,66.5 92.5,69.3 93.0,69.7 94.0,69.9 96.5,68.5 97.5,67.4 97.8,66.0 97.7,63.5 97.5,63.3 95.5,64.1 93.5,64.5 92.5,64.5 92.0,64.3 91.5,63.6 90.7,61.0 90.1,57.0 90.3,53.0 91.1,49.5 91.7,48.0 92.5,46.7 93.2,46.0 94.0,45.6 95.0,45.6 95.5,45.8 96.4,46.5 97.0,47.4 98.0,49.7 98.6,52.5 98.9,56.0 98.6,59.5 97.9,63.0 103.5,61.2 103.8,61.0 103.8,60.5 103.3,56.5 103.2,53.0 103.4,50.0 104.0,47.0 104.9,44.0 106.0,42.1 107.0,41.0ZM296.8,57.0 299.5,56.6 302.5,56.6 305.0,57.4 306.6,58.5 307.5,60.0 307.8,62.0 307.3,64.0 305.9,66.5 307.6,69.0 308.5,70.9 309.0,71.0 310.9,69.5 312.8,68.5 316.1,67.5 320.5,67.1 324.5,67.6 328.2,69.0 330.0,70.1 331.5,71.5 332.5,72.9 333.0,74.0 333.3,75.5 333.2,77.0 333.0,78.0 332.3,79.5 330.5,81.5 329.1,82.5 327.5,83.3 324.0,84.5 320.0,84.9 316.5,84.6 313.5,83.8 311.8,83.0 310.0,81.9 309.7,82.0 308.1,86.0 306.3,89.0 305.5,93.4 304.3,97.0 302.7,100.0 301.0,102.3 298.3,105.0 296.5,106.2 295.0,106.9 293.4,107.5 291.5,107.9 290.0,108.0 288.0,107.8 286.0,107.3 284.0,106.5 282.4,105.5 280.6,104.0 279.0,102.3 277.6,100.5 275.5,96.5 274.2,92.0 273.6,87.5 273.6,84.5 274.1,80.0 274.0,77.5 274.3,75.0 275.0,72.0 276.4,69.0 278.5,66.1 280.7,64.0 282.9,62.5 284.9,61.5 287.0,60.7 290.0,60.0 293.0,58.3ZM359.2,67.0 360.0,66.8 360.5,66.8 361.4,67.5 362.0,68.3 363.0,71.0 363.4,74.0 363.3,77.5 362.5,80.7 361.5,82.4 360.8,83.0 360.0,83.2 359.2,83.0 358.6,82.5 357.7,81.0 357.0,79.0 356.6,76.0 356.7,73.0 357.1,70.5 358.0,68.3ZM254.2,104.0 256.0,103.7 258.0,103.8 259.5,104.3 260.9,105.0 261.9,106.0 262.5,107.5 262.4,109.0 261.9,110.0 261.0,110.9 260.1,111.5 257.5,112.3 256.0,112.3 254.5,112.1 253.0,111.5 252.1,111.0 251.1,110.0 250.6,109.0 250.4,108.0 250.6,107.0 251.1,106.0 252.0,105.1 253.0,104.5Z" fill="#befad7" fill-rule="evenodd"/><path d="M108.3,42.5 109.5,42.8 110.7,44.0 111.7,46.0 112.5,48.5 112.9,51.5 113.0,54.0 112.8,57.5 112.1,61.0 112.5,61.4 115.0,61.4 118.5,62.5 122.0,62.9 134.5,62.9 137.5,62.5 139.1,62.0 139.5,61.8 139.6,61.5 138.2,59.5 137.8,58.0 137.8,56.5 138.4,54.0 139.5,52.1 141.5,50.3 144.0,49.1 146.5,48.7 149.5,49.0 151.5,49.7 153.0,50.7 154.4,52.0 155.4,53.5 156.0,55.1 156.2,57.0 156.0,58.9 155.4,60.5 157.5,61.1 159.5,61.9 162.5,63.9 164.7,66.5 166.5,69.9 169.5,72.5 172.4,76.0 173.0,76.2 174.0,77.1 174.2,77.0 174.5,75.5 174.2,75.0 172.5,73.6 171.8,72.5 171.3,71.0 171.3,69.0 171.8,67.5 172.9,66.0 174.2,65.0 176.0,64.3 178.5,64.0 181.0,64.6 183.0,65.9 184.5,67.9 189.0,65.6 193.5,63.9 198.5,62.5 203.5,61.7 207.5,61.5 218.0,61.6 223.0,62.3 227.0,63.5 229.0,64.5 230.1,65.5 230.8,66.5 231.2,68.0 231.0,69.0 230.2,70.5 228.8,72.0 226.8,73.5 226.0,77.0 224.5,80.0 226.5,82.1 227.9,84.5 228.3,87.0 227.9,89.5 226.8,91.5 225.0,93.5 223.0,95.0 220.2,96.5 217.5,97.5 213.6,98.5 210.0,99.0 206.5,99.1 203.5,98.9 200.0,98.4 196.5,97.5 193.8,96.5 193.1,96.0 193.0,95.5 193.4,93.5 192.9,92.0 191.5,90.6 190.5,89.9 189.0,89.1 188.0,88.8 187.0,89.2 185.9,90.0 185.1,91.0 184.0,93.0 183.5,93.2 183.0,93.2 181.5,93.7 180.5,93.7 179.0,93.1 178.0,92.3 177.5,92.5 176.5,97.0 175.6,99.0 174.0,101.0 172.5,102.1 170.5,103.0 168.5,103.5 164.0,104.1 158.5,104.3 154.0,103.9 150.0,103.1 147.0,102.1 142.0,103.0 133.0,103.9 127.0,104.1 120.5,103.8 114.5,103.1 109.0,102.1 103.5,100.7 98.7,99.0 94.5,97.1 91.0,95.1 88.1,93.0 85.5,90.5 83.7,88.0 82.6,85.5 82.0,83.0 82.2,80.0 82.9,77.5 84.4,75.0 86.5,72.5 89.0,70.3 90.0,69.7 90.5,69.7 92.5,71.4 93.5,71.9 95.0,72.0 96.0,71.7 97.5,70.5 98.2,69.5 98.6,68.5 99.5,65.0 100.5,64.3 105.0,62.9 105.4,62.5 104.5,59.4 104.1,56.5 104.0,53.0 104.3,50.0 105.0,46.7 105.9,44.5 107.0,43.1ZM127.5,64.0 126.0,64.3 125.7,64.5 125.7,65.0 127.5,65.3 129.4,65.0 129.3,64.5 129.0,64.3ZM180.0,75.5 178.9,76.0 178.2,77.0 178.2,78.0 179.0,79.0 180.1,79.5 181.5,79.6 183.0,79.0 183.5,78.5 183.9,77.5 183.8,77.0 183.1,76.0 181.5,75.4ZM93.6,48.5 94.5,48.2 95.0,48.3 96.0,49.0 96.5,49.8 97.0,51.0 97.5,52.9 97.7,55.5 97.5,59.0 96.8,61.5 96.0,62.5 94.0,63.0 93.0,62.8 92.5,62.2 92.0,61.0 91.5,59.0 91.3,56.5 91.4,53.5 92.0,51.0 92.5,49.8ZM297.2,57.5 300.5,57.1 303.5,57.6 305.5,58.7 306.2,59.5 306.7,60.5 306.9,62.5 306.3,64.5 305.0,66.5 303.1,68.5 303.0,69.0 304.7,71.5 305.8,74.5 306.2,77.5 306.0,80.5 305.1,83.5 303.6,86.5 303.2,90.0 302.3,93.5 301.0,96.5 299.5,98.9 297.0,101.5 294.5,103.0 293.0,103.6 291.2,104.0 289.5,104.1 288.0,103.9 286.5,103.5 284.5,102.5 281.9,100.5 279.5,97.4 278.5,95.6 277.7,93.5 276.7,89.5 276.5,85.5 276.7,82.5 277.8,78.0 278.0,75.5 278.5,73.5 279.5,71.2 281.0,69.0 282.4,67.5 286.0,65.0 286.1,64.5 287.4,63.0 290.5,60.3 293.5,58.7ZM255.3,105.0 257.7,105.0 259.1,105.5 260.0,106.1 260.6,107.0 260.9,108.0 260.6,109.0 259.9,110.0 258.0,110.9 256.5,111.1 254.5,110.8 253.0,109.9 252.2,108.5 252.4,107.0 253.5,105.7Z" fill="#78ebbe" fill-rule="evenodd"/><path d="M108.4,45.0 109.0,45.1 110.0,45.8 111.0,47.6 111.7,50.5 112.0,54.0 111.7,57.5 111.0,60.4 110.0,62.1 109.5,62.6 108.5,63.0 107.5,62.6 107.0,62.2 106.0,60.4 105.3,57.5 105.0,54.0 105.3,50.5 106.0,47.6 107.0,45.8 107.5,45.4ZM146.8,49.5 148.5,49.6 150.0,50.0 152.0,51.0 153.2,52.0 154.6,54.0 155.0,55.0 155.3,56.5 155.0,59.0 154.1,61.0 156.5,61.5 158.5,62.2 160.5,63.2 162.0,64.4 163.5,66.0 164.5,67.5 165.5,70.0 166.0,73.2 167.6,75.0 169.5,75.3 171.5,76.1 173.5,77.3 175.0,78.8 175.5,78.5 175.8,77.5 176.0,75.0 175.7,74.5 174.1,73.5 173.2,72.5 172.5,71.0 172.4,69.5 172.9,68.0 174.0,66.5 175.5,65.6 177.0,65.2 178.0,65.1 179.5,65.3 181.0,65.9 181.9,66.5 183.0,67.8 183.5,69.0 183.7,70.0 184.5,71.0 186.8,69.0 189.3,67.5 192.7,66.0 197.5,64.5 202.0,63.5 207.5,62.7 212.5,62.4 217.0,62.5 222.0,63.2 224.5,64.0 226.0,64.6 227.3,65.5 228.2,66.5 228.7,67.5 228.7,69.0 227.9,70.5 226.5,72.0 224.5,73.5 221.9,75.0 221.4,77.0 220.5,79.0 219.1,81.0 217.2,83.0 214.7,85.0 212.4,86.5 207.1,89.0 202.2,90.5 198.5,91.2 196.5,91.8 195.0,92.0 194.0,91.8 193.5,91.5 192.0,90.0 190.5,89.0 187.5,87.8 186.5,88.1 184.0,89.5 183.0,90.5 181.5,91.2 180.5,91.2 179.5,90.8 178.5,90.1 177.5,88.8 177.0,92.5 176.4,95.5 175.3,98.5 174.3,100.0 173.5,100.8 172.0,101.8 170.0,102.6 168.0,103.1 164.0,103.6 158.0,103.8 154.0,103.4 150.0,102.6 148.0,101.8 146.0,100.4 142.0,101.0 137.5,101.2 132.5,102.1 127.0,102.2 122.0,102.0 117.5,101.6 113.5,101.0 109.0,100.0 102.1,98.0 97.0,95.8 92.5,93.0 90.7,91.5 88.8,89.5 87.5,87.6 86.7,86.0 86.0,84.0 85.8,82.5 85.9,80.5 86.5,78.5 87.4,76.5 88.4,75.0 90.0,73.3 91.0,72.6 94.5,73.4 95.5,73.3 96.5,73.0 97.5,72.3 98.5,71.2 99.2,70.0 100.2,67.5 101.0,66.5 105.0,65.1 109.0,64.0 111.0,63.7 113.0,63.6 122.5,64.6 123.0,64.8 125.0,66.1 126.0,66.3 128.0,66.3 130.0,66.1 132.0,64.8 132.5,64.7 143.0,63.6 143.2,63.5 140.0,60.7 139.2,59.5 138.7,57.5 139.0,55.0 140.0,52.9 142.0,51.0 144.0,50.0ZM180.0,74.5 178.0,75.2 176.6,76.5 176.4,77.5 177.2,79.0 179.0,80.2 181.0,80.6 183.0,80.2 184.7,79.0 185.2,78.0 185.3,77.0 185.0,76.2 184.5,75.6 182.5,74.6 181.0,74.4ZM297.6,58.0 300.0,57.8 302.0,58.0 303.6,58.5 305.0,59.5 305.9,61.0 306.0,62.5 305.5,64.4 304.6,66.0 302.7,68.0 299.9,70.0 297.5,71.2 292.6,72.5 291.5,74.6 290.0,76.5 288.5,78.0 286.5,79.5 284.5,80.5 283.5,80.8 282.5,80.8 281.5,80.4 281.0,79.9 280.7,79.0 280.7,78.0 281.0,76.4 282.0,74.3 283.0,72.7 284.5,71.0 286.1,69.5 286.0,67.5 286.2,66.5 286.5,65.5 287.4,64.0 289.3,62.0 292.0,60.1 294.5,58.9Z" fill="#14c8aa" fill-rule="evenodd"/><path d="M145.0,51.0 147.0,50.8 149.0,51.0 151.0,51.9 152.5,53.2 153.6,55.0 153.9,56.5 153.9,57.5 153.4,59.5 152.8,60.5 151.8,61.5 152.5,61.7 155.5,62.0 157.5,62.5 160.0,63.8 162.1,65.5 163.6,67.5 164.7,70.0 165.1,72.5 164.7,75.5 165.0,75.9 168.0,75.6 170.5,76.2 172.0,76.9 173.5,78.0 175.2,80.0 176.1,82.0 176.6,84.5 176.8,88.0 176.6,91.5 175.4,97.0 174.5,98.9 173.0,100.5 171.5,101.5 168.0,102.6 164.0,103.1 158.5,103.3 154.0,102.9 150.0,102.1 148.5,101.5 146.9,100.5 145.0,98.3 142.5,98.4 139.5,98.0 138.0,98.0 136.5,98.3 133.0,99.7 130.5,100.0 124.0,100.0 117.5,99.4 110.4,98.0 104.0,96.3 100.5,95.1 98.0,93.9 95.9,92.5 94.2,91.0 92.5,89.0 90.8,86.0 90.2,83.5 90.3,80.5 91.1,78.0 92.0,76.5 92.8,75.5 93.5,75.1 96.0,74.5 97.5,73.7 98.8,72.5 101.0,69.5 102.0,68.9 105.5,67.5 108.6,66.5 112.0,65.7 114.0,65.4 117.0,65.4 122.0,65.7 123.0,66.0 125.0,67.1 127.5,67.5 130.0,67.1 133.0,65.8 139.5,65.4 143.5,65.6 144.0,65.4 146.5,63.5 146.0,63.1 145.0,62.8 143.5,62.1 141.4,60.5 140.4,59.0 140.1,57.5 140.1,56.5 140.5,54.8 141.7,53.0 143.0,51.9ZM298.8,58.5 301.0,58.6 302.6,59.0 304.0,59.9 304.8,61.0 305.1,62.5 304.8,64.0 304.0,65.5 302.8,67.0 301.1,68.5 299.5,69.5 297.5,70.5 295.0,71.2 293.0,71.5 291.0,71.4 289.4,71.0 288.0,70.1 287.5,69.5 287.0,68.5 287.0,67.0 287.7,65.0 289.2,63.0 291.0,61.4 293.5,60.0 296.0,59.0ZM211.8,63.5 215.5,63.6 218.8,64.0 222.0,64.9 224.0,65.8 225.3,67.0 225.8,68.5 225.4,70.0 224.3,71.5 222.4,73.0 220.6,74.0 215.7,76.0 209.5,77.6 203.0,78.4 202.9,78.5 203.2,80.0 203.3,82.0 203.1,83.5 202.5,85.2 201.5,86.9 200.5,88.1 199.0,89.3 197.5,90.1 195.5,90.6 194.0,90.5 191.5,88.6 188.2,87.0 187.6,86.5 186.9,84.5 186.7,82.0 187.1,80.0 187.6,78.5 188.6,77.0 188.5,76.5 187.5,75.8 186.7,75.0 186.2,73.5 186.6,72.0 187.7,70.5 189.6,69.0 191.4,68.0 194.9,66.5 198.0,65.5 202.2,64.5 205.2,64.0Z" fill="#14afa0" fill-rule="evenodd"/><path d="M296.7,60.0 298.5,59.8 300.0,59.8 301.5,60.3 302.5,61.0 303.1,62.0 303.3,63.0 303.0,64.3 302.4,65.5 300.5,67.5 299.1,68.5 297.0,69.5 295.0,70.1 293.0,70.2 291.2,70.0 290.0,69.5 289.1,68.5 288.8,67.5 288.9,66.0 289.6,64.5 290.9,63.0 292.9,61.5 295.0,60.5ZM150.8,63.0 154.0,62.8 157.0,63.5 159.5,64.6 161.5,66.5 163.0,68.7 163.5,70.0 163.9,71.5 164.0,73.0 163.8,74.5 163.0,77.0 167.0,76.2 169.5,76.5 171.0,77.1 172.5,78.0 174.0,79.4 174.8,80.5 175.6,82.5 176.0,85.0 176.2,89.0 175.9,92.5 174.9,96.5 174.3,98.0 173.0,99.7 171.0,101.0 169.5,101.6 166.0,102.3 162.0,102.6 158.0,102.6 154.0,102.3 150.5,101.6 148.5,100.8 147.0,99.8 145.9,98.5 145.1,97.0 144.2,94.0 144.0,92.5 143.6,92.0 143.4,91.0 142.6,82.5 141.5,77.6 140.5,75.1 139.5,73.4 138.5,72.2 138.0,72.0 137.0,72.4 136.0,73.5 135.0,74.9 134.0,77.1 133.5,79.0 133.0,82.1 132.5,87.0 132.3,93.0 132.0,94.0 131.5,94.9 130.5,95.5 127.5,95.8 121.5,95.6 117.5,95.1 111.5,93.7 105.5,93.7 102.5,93.2 100.0,92.3 97.8,91.0 95.9,89.0 94.7,87.0 94.1,85.0 94.0,83.0 94.4,81.0 95.0,79.5 96.0,78.0 97.4,76.5 99.0,75.3 101.0,74.2 114.5,69.6 117.5,68.9 121.0,68.4 123.5,68.3 127.5,68.7 132.5,68.4 135.0,69.0 138.0,70.7 140.5,70.2 142.0,70.2 142.5,69.9 142.8,69.0 144.0,67.1 145.5,65.5 147.8,64.0Z" fill="#14a5c8" fill-rule="evenodd"/><path d="M151.8,64.5 154.0,64.5 156.5,65.0 157.5,64.8 158.5,64.9 159.5,65.4 160.5,66.5 161.8,69.0 162.4,72.0 162.3,74.5 161.6,77.0 160.9,78.5 161.0,78.8 163.5,77.7 165.5,77.1 167.0,76.9 169.0,77.0 170.5,77.5 172.0,78.4 173.5,79.8 174.3,81.0 175.1,83.0 175.5,86.0 175.6,89.0 175.2,92.5 174.3,96.5 173.6,98.0 172.5,99.3 171.0,100.3 168.0,101.3 164.0,101.9 160.0,102.0 154.5,101.7 151.0,101.1 149.0,100.3 147.5,99.4 146.1,97.5 145.3,95.5 144.6,92.5 144.4,88.0 144.8,85.0 145.4,82.5 146.0,81.2 147.2,79.5 145.5,77.6 144.5,75.8 144.0,74.0 143.9,71.5 144.8,69.0 146.5,66.9 148.5,65.5 150.0,64.9ZM120.2,73.0 123.0,73.3 124.5,73.8 125.8,74.5 127.9,76.5 129.2,79.0 129.6,82.0 129.2,85.0 127.9,87.5 127.0,88.5 125.5,89.7 124.0,90.4 122.5,90.8 119.5,90.9 117.0,90.3 113.5,88.4 112.0,88.0 111.0,88.3 109.0,89.7 107.5,90.6 106.0,91.0 104.0,91.2 102.0,90.8 100.2,90.0 98.8,89.0 97.6,87.5 97.0,86.2 96.7,85.0 96.8,82.5 97.3,81.0 97.9,80.0 98.8,79.0 100.0,78.1 102.0,77.2 104.5,76.9 106.5,77.2 110.0,78.5 111.0,78.4 112.0,77.7 114.5,75.2 116.0,74.2 118.0,73.4Z" fill="#1482c8" fill-rule="evenodd"/><path d="M156.9,66.0 158.0,65.8 158.7,66.0 159.5,66.5 160.5,67.8 161.0,68.8 161.5,70.7 161.6,73.0 161.5,75.0 161.0,76.7 160.5,77.8 159.6,79.0 161.0,79.6 163.5,78.3 165.5,77.7 167.0,77.5 169.0,77.6 171.0,78.5 172.4,79.5 173.5,80.8 174.1,82.0 174.8,85.0 174.9,89.0 174.7,92.0 173.9,95.5 173.2,97.5 172.4,98.5 171.0,99.6 169.5,100.3 166.0,101.0 162.0,101.4 158.0,101.4 154.0,101.0 151.0,100.4 149.0,99.6 147.5,98.5 146.3,96.5 145.2,92.5 145.0,90.0 145.2,86.0 145.9,83.0 147.0,80.8 149.0,79.0 151.5,77.8 153.0,77.5 154.7,77.5 154.7,77.0 154.0,74.0 154.1,71.0 154.4,69.5 155.0,68.0 156.0,66.6ZM119.4,75.0 120.5,74.9 122.0,75.0 123.5,75.5 124.5,76.1 125.6,77.0 126.4,78.0 127.2,79.5 127.5,80.5 127.6,82.0 127.5,83.5 127.2,84.5 126.4,86.0 125.6,87.0 124.5,87.9 123.5,88.5 122.0,89.0 120.5,89.1 119.0,88.9 116.5,87.9 114.4,86.0 113.7,85.0 113.1,83.5 113.0,82.5 113.2,81.0 113.7,79.5 114.6,78.0 115.5,76.9 116.7,76.0 118.0,75.4ZM102.5,80.5 104.0,80.3 105.5,80.6 106.8,81.5 107.6,82.5 108.0,83.5 108.0,85.0 107.2,86.5 106.0,87.5 104.5,88.0 103.0,87.8 101.5,87.0 100.4,85.5 100.0,84.0 100.3,82.5 101.0,81.5Z" fill="#1466a4" fill-rule="evenodd"/><path d="M118.6,76.5 120.0,76.2 121.0,76.2 123.0,76.7 124.7,78.0 126.0,80.0 126.3,81.0 126.3,82.5 125.8,84.5 124.5,86.2 122.5,87.5 121.5,87.7 120.0,87.8 118.0,87.3 116.2,86.0 114.9,84.0 114.6,82.0 114.8,80.5 115.2,79.5 116.5,77.8 117.5,77.0ZM151.4,78.5 153.0,78.1 155.0,78.2 158.0,78.9 161.0,80.2 164.0,78.8 166.5,78.2 168.0,78.1 170.0,78.7 172.0,80.0 173.2,81.5 173.8,83.0 174.2,85.0 174.3,88.0 174.1,91.5 173.4,95.0 172.7,97.0 172.0,98.0 170.5,99.2 167.5,100.1 164.0,100.6 160.0,100.8 156.0,100.6 152.5,100.1 149.5,99.2 148.0,98.1 147.2,97.0 146.7,96.0 145.8,92.0 145.6,89.0 146.0,85.0 146.5,83.0 147.6,81.0 149.0,79.8Z" fill="#1e2eaa" fill-rule="evenodd"/><path d="M119.1,78.5 120.5,78.2 122.0,78.5 123.3,79.5 124.0,80.5 124.3,82.0 124.0,83.5 123.3,84.5 122.0,85.5 120.5,85.8 119.0,85.5 117.7,84.5 117.0,83.5 116.7,82.0 117.0,80.5 118.0,79.2ZM152.4,79.5 154.0,79.4 155.5,79.6 157.5,80.1 160.0,81.2 161.0,81.4 162.0,81.2 164.5,79.9 166.5,79.4 168.0,79.4 169.5,79.8 171.2,81.0 172.1,82.0 172.6,83.5 173.0,86.0 173.1,89.0 172.8,92.0 172.1,95.0 171.6,96.5 171.0,97.3 170.0,98.1 167.0,99.0 163.5,99.4 160.0,99.5 156.5,99.4 153.0,99.0 150.0,98.1 149.0,97.3 148.3,96.5 147.9,95.5 147.0,92.0 146.8,89.0 147.3,85.0 147.9,83.0 148.9,81.5 150.5,80.3Z" fill="#8c14dc" fill-rule="evenodd"/><path d="M153.3,85.5 154.0,85.2 155.0,85.1 156.0,85.4 156.6,86.0 157.1,87.0 157.1,88.0 156.6,89.0 156.0,89.6 154.5,89.9 153.5,89.6 152.8,89.0 152.3,88.0 152.3,87.0 152.8,86.0Z" fill="#a8149e" fill-rule="evenodd"/></g></g>
<path d="M92.4,53.4 L93.9,54.0 L95.3,58.6 L96.5,63.3 L97.7,67.4 L100.0,68.6 L103.5,68.9 L106.4,68.0 L107.6,66.2 L107.0,62.1 L105.8,56.3 L105.2,50.5 L105.8,46.4 L107.6,45.2 L109.9,46.4 L110.7,51.7 L111.6,56.3 L112.8,62.1 L114.0,62.7 L119.8,62.7 L125.6,62.4 L127.4,61.0 L131.5,63.3 L136.0,62.5 L138.3,61.1 L140.1,57.1 L140.7,54.1 L143.0,52.0 L146.5,51.2 L150.6,53.0 L152.9,55.9 L153.2,59.4 L151.7,62.3 L149.8,64.0 L146.5,64.0 L143.0,63.2 L141.2,64.6 L143.0,65.8 L147.7,66.4 L151.2,66.4 L153.5,67.9 L157.6,65.8 L159.3,66.4 L160.5,69.3 L161.1,72.8 L162.2,75.7 L164.6,76.9 L168.6,76.6 L173.3,75.7 L178.0,74.5 L182.6,72.8 L186.0,72.2 L190.7,71.6 L195.3,68.7 L198.8,65.8 L202.3,64.9 L207.0,64.4 L212.8,64.9 L217.5,64.1 L220.4,62.5 L223.3,63.5 L226.8,62.5 L229.1,60.6 L231.5,61.4 L233.8,62.1 L236.0,62.9 L236.5,68.7 L240.7,69.1 L247.7,68.4 L252.3,68.1 L259.3,67.0 L266.3,65.8 L269.8,65.2 L272.1,67.0 L275.0,69.3 L278.0,69.5 L281.5,68.1 L283.8,66.4 L286.0,65.0 L290.7,62.5 L295.3,60.9 L300.0,60.2 L304.6,59.7 L306.7,60.0 L305.8,62.3 L304.6,64.6 L303.8,66.5 L305.5,69.5 L305.2,72.8 L304.6,76.3 L304.6,80.0 L305.8,82.3 L307.6,85.2 L311.0,86.0 L314.6,85.8 L316.3,83.5 L317.5,81.0 L319.0,78.5 L322.1,76.9 L328.0,73.4 L332.6,70.5 L336.0,69.0 L339.5,68.4 L343.0,69.9 L346.5,68.1 L349.4,65.8 L351.7,62.5 L353.5,60.0 L354.6,60.6 L355.8,62.3 L357.6,65.2 L359.3,68.1 L361.0,69.3 L362.2,71.6 L360.5,74.5 L359.9,78.0 L360.5,79.5 L359.3,82.5 L358.1,87.2 L356.4,90.1 L353.5,91.8 L350.0,93.0 L346.5,94.7 L343.6,93.6 L340.7,93.6 L338.3,94.7 L336.0,94.3 L332.6,92.2 L330.3,93.4 L325.6,94.6 L321.0,96.3 L317.5,98.1 L314.0,99.2 L309.3,99.2 L304.6,99.6 L300.0,100.7 L295.3,101.6 L290.7,103.3 L286.0,105.1 L280.3,105.9 L275.6,105.4 L271.0,107.4 L266.3,108.6 L261.6,111.7 L255.8,113.8 L251.2,114.4 L246.5,116.4 L240.7,117.3 L236.0,118.5 L232.6,119.0 L228.0,119.6 L223.3,119.6 L221.0,120.8 L217.5,122.0 L215.1,121.4 L214.9,117.3 L214.6,112.6 L214.0,108.0 L212.8,105.1 L210.5,103.9 L205.8,103.9 L200.0,104.2 L195.3,103.9 L193.0,102.1 L189.5,100.0 L186.0,99.6 L183.8,99.6 L180.3,98.6 L177.4,96.9 L175.6,96.1 L171.0,97.2 L166.3,98.6 L161.6,98.9 L158.1,97.5 L154.6,98.4 L150.0,98.4 L145.3,99.2 L142.4,100.0 L139.5,98.1 L136.0,96.9 L132.6,97.7 L128.0,97.5 L123.3,96.9 L119.8,97.7 L116.3,99.2 L111.6,99.8 L108.7,101.6 L106.4,100.7 L103.5,101.6 L99.4,101.3 L98.2,99.2 L94.7,98.4 L93.0,97.5 L92.4,94.6 L93.9,91.7 L93.9,90.0 L93.2,84.3 L94.2,78.5 L93.2,75.0 L93.9,70.3 L94.2,63.0 L93.0,57.5Z" fill="none" stroke="#263c44" stroke-width="1.15" stroke-linejoin="round"/>
<path d="M58.6,26.2 L60.5,26.8 L62.8,28.8 L65.0,31.5 L66.4,35.0 L65.0,35.3 L62.3,33.6 L59.8,30.5 L58.5,28.0Z" fill="#14afa0" stroke="#263c44" stroke-width="0.9"/>
<path d="M149.0,139.0 L151.0,137.5 L153.5,137.3 L156.0,138.5 L157.0,141.0 L158.6,144.5 L156.0,144.2 L153.0,143.0 L150.0,141.5Z" fill="#14a5c8" stroke="#263c44" stroke-width="0.9"/>
<path d="M248.6,55.5 L250.5,53.3 L252.5,52.6 L254.5,53.5 L255.8,55.8 L252.0,56.3Z" fill="#fff" stroke="#263c44" stroke-width="0.9"/>
<path d="M306.0,116.2 L309.0,114.8 L312.5,113.8 L313.5,114.8 L310.0,116.0 L307.0,116.8Z" fill="#fff" stroke="#263c44" stroke-width="0.9"/>
<path d="M348.0,100.5 L350.0,100.0 L351.5,101.5 L351.0,104.0 L349.5,105.5 L348.3,103.5Z" fill="#fff" stroke="#263c44" stroke-width="0.9"/>
<circle cx="83.4" cy="61.5" r="0.7" fill="#263c44"/>
<circle cx="143.4" cy="131.5" r="1.0" fill="#263c44"/>
<circle cx="362.8" cy="59.7" r="0.8" fill="#263c44"/>
<circle cx="318" cy="76.3" r="0.9" fill="#263c44"/>
<circle cx="283.6" cy="30.5" r="0.4" fill="#263c44"/>
<circle cx="127.4" cy="60.5" r="0.6" fill="#263c44"/>
<circle cx="93.3" cy="54.5" r="0.9" fill="#263c44"/>
<circle cx="93.8" cy="59.3" r="0.8" fill="#263c44"/>
<circle cx="305" cy="76.5" r="0.7" fill="#263c44"/>
<ellipse cx="305" cy="67.5" rx="1.8" ry="3.2" fill="#263c44"/>
<ellipse cx="345.6" cy="52.8" rx="1.5" ry="2.8" fill="#263c44"/>
<line x1="197.2" y1="115" x2="201.2" y2="113.6" stroke="#263c44" stroke-width="1.5" stroke-linecap="round"/>
<line x1="142.2" y1="130.6" x2="144.6" y2="132.6" stroke="#263c44" stroke-width="1.3" stroke-linecap="round"/>
<line x1="356" y1="60.5" x2="358.2" y2="56" stroke="#263c44" stroke-width="1.8" stroke-linecap="round"/>
<rect x="56.5" y="12.5" width="331.0" height="150.0" fill="none" stroke="#1b2a30" stroke-width="1.1"/>
<line x1="50" y1="15.6" x2="56.5" y2="15.6" stroke="#1b2a30" stroke-width="1"/>
<line x1="50" y1="45.3" x2="56.5" y2="45.3" stroke="#1b2a30" stroke-width="1"/>
<line x1="50" y1="75.0" x2="56.5" y2="75.0" stroke="#1b2a30" stroke-width="1"/>
<line x1="50" y1="104.8" x2="56.5" y2="104.8" stroke="#1b2a30" stroke-width="1"/>
<line x1="50" y1="134.5" x2="56.5" y2="134.5" stroke="#1b2a30" stroke-width="1"/>
<line x1="99.5" y1="162.5" x2="99.5" y2="168.3" stroke="#1b2a30" stroke-width="1"/>
<line x1="148.5" y1="162.5" x2="148.5" y2="168.3" stroke="#1b2a30" stroke-width="1"/>
<line x1="197.5" y1="162.5" x2="197.5" y2="168.3" stroke="#1b2a30" stroke-width="1"/>
<line x1="246.5" y1="162.5" x2="246.5" y2="168.3" stroke="#1b2a30" stroke-width="1"/>
<line x1="295.5" y1="162.5" x2="295.5" y2="168.3" stroke="#1b2a30" stroke-width="1"/>
<line x1="344.5" y1="162.5" x2="344.5" y2="168.3" stroke="#1b2a30" stroke-width="1"/>
<rect x="395.0" y="19.00" width="13.399999999999977" height="11.41" fill="#a8149e" stroke="#1e2a2a" stroke-width="0.6"/>
<rect x="395.0" y="30.41" width="13.399999999999977" height="11.41" fill="#8c14dc" stroke="#1e2a2a" stroke-width="0.6"/>
<rect x="395.0" y="41.82" width="13.399999999999977" height="11.41" fill="#1e2eaa" stroke="#1e2a2a" stroke-width="0.6"/>
<rect x="395.0" y="53.23" width="13.399999999999977" height="11.41" fill="#1464a5" stroke="#1e2a2a" stroke-width="0.6"/>
<rect x="395.0" y="64.63" width="13.399999999999977" height="11.41" fill="#1482c8" stroke="#1e2a2a" stroke-width="0.6"/>
<rect x="395.0" y="76.04" width="13.399999999999977" height="11.41" fill="#14a5c8" stroke="#1e2a2a" stroke-width="0.6"/>
<rect x="395.0" y="87.45" width="13.399999999999977" height="11.41" fill="#14afa0" stroke="#1e2a2a" stroke-width="0.6"/>
<rect x="395.0" y="98.86" width="13.399999999999977" height="11.41" fill="#14c8aa" stroke="#1e2a2a" stroke-width="0.6"/>
<rect x="395.0" y="110.27" width="13.399999999999977" height="11.41" fill="#78ebbe" stroke="#1e2a2a" stroke-width="0.6"/>
<rect x="395.0" y="121.67" width="13.399999999999977" height="11.41" fill="#befad7" stroke="#1e2a2a" stroke-width="0.6"/>
<rect x="395.0" y="133.08" width="13.399999999999977" height="11.41" fill="#ebf8be" stroke="#1e2a2a" stroke-width="0.6"/>
<rect x="395.0" y="144.49" width="13.399999999999977" height="11.41" fill="#ffffff" stroke="#1e2a2a" stroke-width="0.6"/>
<g opacity="0.99"><text x="47" y="18.4" text-anchor="end" class="ax">36°N</text><text x="47" y="48.1" text-anchor="end" class="ax">35°45'N</text><text x="47" y="77.8" text-anchor="end" class="ax">35°30'N</text><text x="47" y="107.6" text-anchor="end" class="ax">35°15'N</text><text x="47" y="137.3" text-anchor="end" class="ax">35°N</text><text x="99.5" y="177.3" text-anchor="middle" class="ax">23°30'E</text><text x="148.5" y="177.3" text-anchor="middle" class="ax">24°E</text><text x="197.5" y="177.3" text-anchor="middle" class="ax">24°30'E</text><text x="246.5" y="177.3" text-anchor="middle" class="ax">25°E</text><text x="295.5" y="177.3" text-anchor="middle" class="ax">25°30'E</text><text x="344.5" y="177.3" text-anchor="middle" class="ax">26°E</text><text x="387.5" y="10.2" text-anchor="end" class="dt">25 Feb 2019</text><text x="4.3" y="21.5" class="pl">(b)</text><text x="411.8" y="32.7" class="cb">350</text><text x="411.8" y="44.1" class="cb">250</text><text x="411.8" y="55.5" class="cb">200</text><text x="411.8" y="66.9" class="cb">175</text><text x="411.8" y="78.3" class="cb">150</text><text x="411.8" y="89.8" class="cb">125</text><text x="411.8" y="101.2" class="cb">100</text><text x="411.8" y="112.6" class="cb">80</text><text x="411.8" y="124.0" class="cb">60</text><text x="411.8" y="135.4" class="cb">40</text><text x="411.8" y="146.8" class="cb">20</text></g>
</g>
<g transform="translate(0,368)">
<rect x="56.5" y="12.5" width="331.0" height="150.0" fill="#99d9e7"/>
<path d="M92.4,53.4 L93.9,54.0 L95.3,58.6 L96.5,63.3 L97.7,67.4 L100.0,68.6 L103.5,68.9 L106.4,68.0 L107.6,66.2 L107.0,62.1 L105.8,56.3 L105.2,50.5 L105.8,46.4 L107.6,45.2 L109.9,46.4 L110.7,51.7 L111.6,56.3 L112.8,62.1 L114.0,62.7 L119.8,62.7 L125.6,62.4 L127.4,61.0 L131.5,63.3 L136.0,62.5 L138.3,61.1 L140.1,57.1 L140.7,54.1 L143.0,52.0 L146.5,51.2 L150.6,53.0 L152.9,55.9 L153.2,59.4 L151.7,62.3 L149.8,64.0 L146.5,64.0 L143.0,63.2 L141.2,64.6 L143.0,65.8 L147.7,66.4 L151.2,66.4 L153.5,67.9 L157.6,65.8 L159.3,66.4 L160.5,69.3 L161.1,72.8 L162.2,75.7 L164.6,76.9 L168.6,76.6 L173.3,75.7 L178.0,74.5 L182.6,72.8 L186.0,72.2 L190.7,71.6 L195.3,68.7 L198.8,65.8 L202.3,64.9 L207.0,64.4 L212.8,64.9 L217.5,64.1 L220.4,62.5 L223.3,63.5 L226.8,62.5 L229.1,60.6 L231.5,61.4 L233.8,62.1 L236.0,62.9 L236.5,68.7 L240.7,69.1 L247.7,68.4 L252.3,68.1 L259.3,67.0 L266.3,65.8 L269.8,65.2 L272.1,67.0 L275.0,69.3 L278.0,69.5 L281.5,68.1 L283.8,66.4 L286.0,65.0 L290.7,62.5 L295.3,60.9 L300.0,60.2 L304.6,59.7 L306.7,60.0 L305.8,62.3 L304.6,64.6 L303.8,66.5 L305.5,69.5 L305.2,72.8 L304.6,76.3 L304.6,80.0 L305.8,82.3 L307.6,85.2 L311.0,86.0 L314.6,85.8 L316.3,83.5 L317.5,81.0 L319.0,78.5 L322.1,76.9 L328.0,73.4 L332.6,70.5 L336.0,69.0 L339.5,68.4 L343.0,69.9 L346.5,68.1 L349.4,65.8 L351.7,62.5 L353.5,60.0 L354.6,60.6 L355.8,62.3 L357.6,65.2 L359.3,68.1 L361.0,69.3 L362.2,71.6 L360.5,74.5 L359.9,78.0 L360.5,79.5 L359.3,82.5 L358.1,87.2 L356.4,90.1 L353.5,91.8 L350.0,93.0 L346.5,94.7 L343.6,93.6 L340.7,93.6 L338.3,94.7 L336.0,94.3 L332.6,92.2 L330.3,93.4 L325.6,94.6 L321.0,96.3 L317.5,98.1 L314.0,99.2 L309.3,99.2 L304.6,99.6 L300.0,100.7 L295.3,101.6 L290.7,103.3 L286.0,105.1 L280.3,105.9 L275.6,105.4 L271.0,107.4 L266.3,108.6 L261.6,111.7 L255.8,113.8 L251.2,114.4 L246.5,116.4 L240.7,117.3 L236.0,118.5 L232.6,119.0 L228.0,119.6 L223.3,119.6 L221.0,120.8 L217.5,122.0 L215.1,121.4 L214.9,117.3 L214.6,112.6 L214.0,108.0 L212.8,105.1 L210.5,103.9 L205.8,103.9 L200.0,104.2 L195.3,103.9 L193.0,102.1 L189.5,100.0 L186.0,99.6 L183.8,99.6 L180.3,98.6 L177.4,96.9 L175.6,96.1 L171.0,97.2 L166.3,98.6 L161.6,98.9 L158.1,97.5 L154.6,98.4 L150.0,98.4 L145.3,99.2 L142.4,100.0 L139.5,98.1 L136.0,96.9 L132.6,97.7 L128.0,97.5 L123.3,96.9 L119.8,97.7 L116.3,99.2 L111.6,99.8 L108.7,101.6 L106.4,100.7 L103.5,101.6 L99.4,101.3 L98.2,99.2 L94.7,98.4 L93.0,97.5 L92.4,94.6 L93.9,91.7 L93.9,90.0 L93.2,84.3 L94.2,78.5 L93.2,75.0 L93.9,70.3 L94.2,63.0 L93.0,57.5Z" fill="#fff"/>
<g clip-path="url(#land)"><g filter="url(#bl)"><path d="M209.9,58.0 221.0,58.0 224.5,58.3 227.0,59.1 228.0,59.8 228.9,61.0 229.6,63.0 230.0,66.0 229.9,81.0 229.5,83.5 229.0,84.9 228.2,86.0 227.0,86.9 225.0,87.6 222.5,87.9 208.0,87.9 205.5,87.5 204.1,87.0 203.0,86.2 202.1,85.0 201.3,82.5 201.0,79.0 201.0,67.0 201.2,64.5 201.5,62.5 202.5,60.3 204.0,59.1 206.5,58.3ZM279.7,70.0 281.5,69.8 283.5,70.0 285.5,70.8 287.4,72.0 288.8,73.5 290.0,75.3 290.9,77.5 291.3,79.5 291.4,81.5 291.0,84.0 290.3,86.0 289.2,88.0 287.9,89.5 286.0,91.0 284.5,91.7 282.5,92.1 280.5,92.1 279.0,91.8 277.1,91.0 275.5,89.9 274.2,88.5 273.0,86.7 272.1,84.5 271.7,82.5 271.6,80.5 272.0,78.0 272.5,76.4 273.5,74.4 274.6,73.0 276.3,71.5 278.0,70.5ZM123.7,79.5 126.0,79.3 128.5,79.5 131.0,80.4 133.0,81.8 133.5,81.9 142.5,80.7 152.1,80.0 162.5,80.0 171.5,80.5 176.5,81.0 182.8,82.0 188.8,83.5 192.5,84.9 195.0,85.1 197.0,85.5 198.5,86.2 199.5,87.0 200.1,88.0 200.5,89.0 200.8,91.0 200.9,94.5 200.8,98.0 200.5,100.0 199.9,101.5 199.0,102.5 197.5,103.3 196.0,103.7 193.5,104.0 188.5,104.1 183.5,104.0 181.0,103.7 178.8,103.0 178.0,102.5 177.1,101.5 176.4,99.5 176.0,96.2 175.5,96.1 168.0,96.8 160.0,97.1 152.0,97.0 148.0,96.6 147.5,96.2 147.0,95.3 146.1,92.5 145.1,90.5 144.0,89.3 142.5,88.8 141.0,89.3 140.0,90.3 139.2,91.5 138.0,94.4 137.5,95.2 137.0,95.5 135.5,95.4 129.5,94.2 127.5,94.6 126.0,94.7 123.0,94.3 121.5,93.8 120.0,93.0 118.0,91.1 116.9,89.0 116.6,87.5 116.6,86.5 116.9,85.0 117.3,84.0 118.8,82.0 120.9,80.5Z" fill="#ebf8be" fill-rule="evenodd"/><path d="M152.8,83.5 155.0,83.0 157.0,83.4 158.1,84.0 160.0,86.0 160.5,86.1 161.0,86.0 163.0,84.0 164.0,83.4 165.5,83.1 167.5,83.3 169.0,84.0 169.9,85.0 170.5,86.5 170.4,88.0 169.6,89.5 168.4,90.5 167.0,91.0 164.5,91.3 163.4,92.0 162.0,93.4 161.0,93.9 160.0,94.0 159.0,93.9 158.0,93.4 155.5,91.5 152.5,90.4 151.0,89.0 150.5,87.5 150.6,86.0 151.4,84.5Z" fill="#befad7" fill-rule="evenodd"/></g></g>
<path d="M92.4,53.4 L93.9,54.0 L95.3,58.6 L96.5,63.3 L97.7,67.4 L100.0,68.6 L103.5,68.9 L106.4,68.0 L107.6,66.2 L107.0,62.1 L105.8,56.3 L105.2,50.5 L105.8,46.4 L107.6,45.2 L109.9,46.4 L110.7,51.7 L111.6,56.3 L112.8,62.1 L114.0,62.7 L119.8,62.7 L125.6,62.4 L127.4,61.0 L131.5,63.3 L136.0,62.5 L138.3,61.1 L140.1,57.1 L140.7,54.1 L143.0,52.0 L146.5,51.2 L150.6,53.0 L152.9,55.9 L153.2,59.4 L151.7,62.3 L149.8,64.0 L146.5,64.0 L143.0,63.2 L141.2,64.6 L143.0,65.8 L147.7,66.4 L151.2,66.4 L153.5,67.9 L157.6,65.8 L159.3,66.4 L160.5,69.3 L161.1,72.8 L162.2,75.7 L164.6,76.9 L168.6,76.6 L173.3,75.7 L178.0,74.5 L182.6,72.8 L186.0,72.2 L190.7,71.6 L195.3,68.7 L198.8,65.8 L202.3,64.9 L207.0,64.4 L212.8,64.9 L217.5,64.1 L220.4,62.5 L223.3,63.5 L226.8,62.5 L229.1,60.6 L231.5,61.4 L233.8,62.1 L236.0,62.9 L236.5,68.7 L240.7,69.1 L247.7,68.4 L252.3,68.1 L259.3,67.0 L266.3,65.8 L269.8,65.2 L272.1,67.0 L275.0,69.3 L278.0,69.5 L281.5,68.1 L283.8,66.4 L286.0,65.0 L290.7,62.5 L295.3,60.9 L300.0,60.2 L304.6,59.7 L306.7,60.0 L305.8,62.3 L304.6,64.6 L303.8,66.5 L305.5,69.5 L305.2,72.8 L304.6,76.3 L304.6,80.0 L305.8,82.3 L307.6,85.2 L311.0,86.0 L314.6,85.8 L316.3,83.5 L317.5,81.0 L319.0,78.5 L322.1,76.9 L328.0,73.4 L332.6,70.5 L336.0,69.0 L339.5,68.4 L343.0,69.9 L346.5,68.1 L349.4,65.8 L351.7,62.5 L353.5,60.0 L354.6,60.6 L355.8,62.3 L357.6,65.2 L359.3,68.1 L361.0,69.3 L362.2,71.6 L360.5,74.5 L359.9,78.0 L360.5,79.5 L359.3,82.5 L358.1,87.2 L356.4,90.1 L353.5,91.8 L350.0,93.0 L346.5,94.7 L343.6,93.6 L340.7,93.6 L338.3,94.7 L336.0,94.3 L332.6,92.2 L330.3,93.4 L325.6,94.6 L321.0,96.3 L317.5,98.1 L314.0,99.2 L309.3,99.2 L304.6,99.6 L300.0,100.7 L295.3,101.6 L290.7,103.3 L286.0,105.1 L280.3,105.9 L275.6,105.4 L271.0,107.4 L266.3,108.6 L261.6,111.7 L255.8,113.8 L251.2,114.4 L246.5,116.4 L240.7,117.3 L236.0,118.5 L232.6,119.0 L228.0,119.6 L223.3,119.6 L221.0,120.8 L217.5,122.0 L215.1,121.4 L214.9,117.3 L214.6,112.6 L214.0,108.0 L212.8,105.1 L210.5,103.9 L205.8,103.9 L200.0,104.2 L195.3,103.9 L193.0,102.1 L189.5,100.0 L186.0,99.6 L183.8,99.6 L180.3,98.6 L177.4,96.9 L175.6,96.1 L171.0,97.2 L166.3,98.6 L161.6,98.9 L158.1,97.5 L154.6,98.4 L150.0,98.4 L145.3,99.2 L142.4,100.0 L139.5,98.1 L136.0,96.9 L132.6,97.7 L128.0,97.5 L123.3,96.9 L119.8,97.7 L116.3,99.2 L111.6,99.8 L108.7,101.6 L106.4,100.7 L103.5,101.6 L99.4,101.3 L98.2,99.2 L94.7,98.4 L93.0,97.5 L92.4,94.6 L93.9,91.7 L93.9,90.0 L93.2,84.3 L94.2,78.5 L93.2,75.0 L93.9,70.3 L94.2,63.0 L93.0,57.5Z" fill="none" stroke="#263c44" stroke-width="1.15" stroke-linejoin="round"/>
<path d="M58.6,26.2 L60.5,26.8 L62.8,28.8 L65.0,31.5 L66.4,35.0 L65.0,35.3 L62.3,33.6 L59.8,30.5 L58.5,28.0Z" fill="#fff" stroke="#263c44" stroke-width="0.9"/>
<path d="M149.0,139.0 L151.0,137.5 L153.5,137.3 L156.0,138.5 L157.0,141.0 L158.6,144.5 L156.0,144.2 L153.0,143.0 L150.0,141.5Z" fill="#fff" stroke="#263c44" stroke-width="0.9"/>
<path d="M248.6,55.5 L250.5,53.3 L252.5,52.6 L254.5,53.5 L255.8,55.8 L252.0,56.3Z" fill="#fff" stroke="#263c44" stroke-width="0.9"/>
<path d="M306.0,116.2 L309.0,114.8 L312.5,113.8 L313.5,114.8 L310.0,116.0 L307.0,116.8Z" fill="#fff" stroke="#263c44" stroke-width="0.9"/>
<path d="M348.0,100.5 L350.0,100.0 L351.5,101.5 L351.0,104.0 L349.5,105.5 L348.3,103.5Z" fill="#fff" stroke="#263c44" stroke-width="0.9"/>
<circle cx="83.4" cy="61.5" r="0.7" fill="#263c44"/>
<circle cx="143.4" cy="131.5" r="1.0" fill="#263c44"/>
<circle cx="362.8" cy="59.7" r="0.8" fill="#263c44"/>
<circle cx="318" cy="76.3" r="0.9" fill="#263c44"/>
<circle cx="283.6" cy="30.5" r="0.4" fill="#263c44"/>
<circle cx="127.4" cy="60.5" r="0.6" fill="#263c44"/>
<circle cx="93.3" cy="54.5" r="0.9" fill="#263c44"/>
<circle cx="93.8" cy="59.3" r="0.8" fill="#263c44"/>
<circle cx="305" cy="76.5" r="0.7" fill="#263c44"/>
<ellipse cx="305" cy="67.5" rx="1.8" ry="3.2" fill="#263c44"/>
<ellipse cx="345.6" cy="52.8" rx="1.5" ry="2.8" fill="#263c44"/>
<line x1="197.2" y1="115" x2="201.2" y2="113.6" stroke="#263c44" stroke-width="1.5" stroke-linecap="round"/>
<line x1="142.2" y1="130.6" x2="144.6" y2="132.6" stroke="#263c44" stroke-width="1.3" stroke-linecap="round"/>
<line x1="356" y1="60.5" x2="358.2" y2="56" stroke="#263c44" stroke-width="1.8" stroke-linecap="round"/>
<rect x="56.5" y="12.5" width="331.0" height="150.0" fill="none" stroke="#1b2a30" stroke-width="1.1"/>
<line x1="50" y1="15.6" x2="56.5" y2="15.6" stroke="#1b2a30" stroke-width="1"/>
<line x1="50" y1="45.3" x2="56.5" y2="45.3" stroke="#1b2a30" stroke-width="1"/>
<line x1="50" y1="75.0" x2="56.5" y2="75.0" stroke="#1b2a30" stroke-width="1"/>
<line x1="50" y1="104.8" x2="56.5" y2="104.8" stroke="#1b2a30" stroke-width="1"/>
<line x1="50" y1="134.5" x2="56.5" y2="134.5" stroke="#1b2a30" stroke-width="1"/>
<line x1="99.5" y1="162.5" x2="99.5" y2="168.3" stroke="#1b2a30" stroke-width="1"/>
<line x1="148.5" y1="162.5" x2="148.5" y2="168.3" stroke="#1b2a30" stroke-width="1"/>
<line x1="197.5" y1="162.5" x2="197.5" y2="168.3" stroke="#1b2a30" stroke-width="1"/>
<line x1="246.5" y1="162.5" x2="246.5" y2="168.3" stroke="#1b2a30" stroke-width="1"/>
<line x1="295.5" y1="162.5" x2="295.5" y2="168.3" stroke="#1b2a30" stroke-width="1"/>
<line x1="344.5" y1="162.5" x2="344.5" y2="168.3" stroke="#1b2a30" stroke-width="1"/>
<rect x="395.0" y="19.00" width="13.399999999999977" height="11.41" fill="#a8149e" stroke="#1e2a2a" stroke-width="0.6"/>
<rect x="395.0" y="30.41" width="13.399999999999977" height="11.41" fill="#8c14dc" stroke="#1e2a2a" stroke-width="0.6"/>
<rect x="395.0" y="41.82" width="13.399999999999977" height="11.41" fill="#1e2eaa" stroke="#1e2a2a" stroke-width="0.6"/>
<rect x="395.0" y="53.23" width="13.399999999999977" height="11.41" fill="#1464a5" stroke="#1e2a2a" stroke-width="0.6"/>
<rect x="395.0" y="64.63" width="13.399999999999977" height="11.41" fill="#1482c8" stroke="#1e2a2a" stroke-width="0.6"/>
<rect x="395.0" y="76.04" width="13.399999999999977" height="11.41" fill="#14a5c8" stroke="#1e2a2a" stroke-width="0.6"/>
<rect x="395.0" y="87.45" width="13.399999999999977" height="11.41" fill="#14afa0" stroke="#1e2a2a" stroke-width="0.6"/>
<rect x="395.0" y="98.86" width="13.399999999999977" height="11.41" fill="#14c8aa" stroke="#1e2a2a" stroke-width="0.6"/>
<rect x="395.0" y="110.27" width="13.399999999999977" height="11.41" fill="#78ebbe" stroke="#1e2a2a" stroke-width="0.6"/>
<rect x="395.0" y="121.67" width="13.399999999999977" height="11.41" fill="#befad7" stroke="#1e2a2a" stroke-width="0.6"/>
<rect x="395.0" y="133.08" width="13.399999999999977" height="11.41" fill="#ebf8be" stroke="#1e2a2a" stroke-width="0.6"/>
<rect x="395.0" y="144.49" width="13.399999999999977" height="11.41" fill="#ffffff" stroke="#1e2a2a" stroke-width="0.6"/>
<g opacity="0.99"><text x="47" y="18.4" text-anchor="end" class="ax">36°N</text><text x="47" y="48.1" text-anchor="end" class="ax">35°45'N</text><text x="47" y="77.8" text-anchor="end" class="ax">35°30'N</text><text x="47" y="107.6" text-anchor="end" class="ax">35°15'N</text><text x="47" y="137.3" text-anchor="end" class="ax">35°N</text><text x="99.5" y="177.3" text-anchor="middle" class="ax">23°30'E</text><text x="148.5" y="177.3" text-anchor="middle" class="ax">24°E</text><text x="197.5" y="177.3" text-anchor="middle" class="ax">24°30'E</text><text x="246.5" y="177.3" text-anchor="middle" class="ax">25°E</text><text x="295.5" y="177.3" text-anchor="middle" class="ax">25°30'E</text><text x="344.5" y="177.3" text-anchor="middle" class="ax">26°E</text><text x="387.5" y="10.2" text-anchor="end" class="dt">26 Feb 2019</text><text x="4.3" y="21.5" class="pl">(c)</text><text x="411.8" y="32.7" class="cb">350</text><text x="411.8" y="44.1" class="cb">250</text><text x="411.8" y="55.5" class="cb">200</text><text x="411.8" y="66.9" class="cb">175</text><text x="411.8" y="78.3" class="cb">150</text><text x="411.8" y="89.8" class="cb">125</text><text x="411.8" y="101.2" class="cb">100</text><text x="411.8" y="112.6" class="cb">80</text><text x="411.8" y="124.0" class="cb">60</text><text x="411.8" y="135.4" class="cb">40</text><text x="411.8" y="146.8" class="cb">20</text></g>
</g>
</svg></body></html>
